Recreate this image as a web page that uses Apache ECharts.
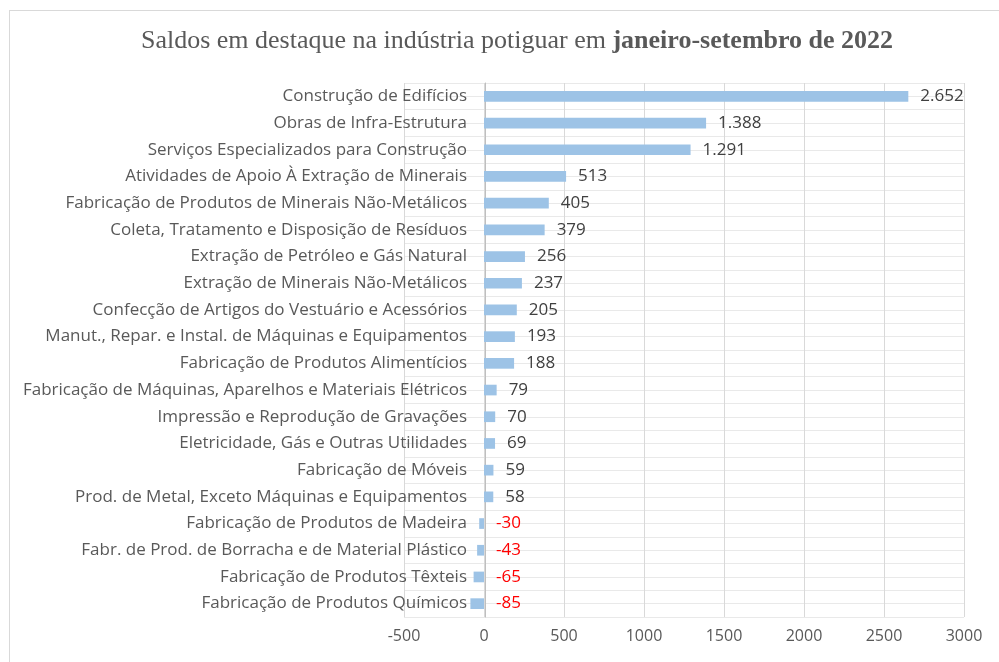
<!DOCTYPE html>
<html>
<head>
<meta charset="utf-8">
<script src="https://cdn.jsdelivr.net/npm/echarts@6/dist/echarts.min.js"></script>
<style>
  html, body { margin: 0; padding: 0; background: #fff; }
  #frame { position: absolute; left: 9px; top: 10px; width: 1000px; height: 700px;
           border-left: 1px solid #d9d9d9; border-top: 1px solid #d9d9d9; }
  #main { position: absolute; left: 0; top: 0; width: 999px; height: 662px; }
</style>
</head>
<body>
<div id="frame"></div>
<div id="main"></div>
<script>
// categorias (de cima para baixo)
var categories = [
  "Construção de Edifícios",
  "Obras de Infra-Estrutura",
  "Serviços Especializados para Construção",
  "Atividades de Apoio À Extração de Minerais",
  "Fabricação de Produtos de Minerais Não-Metálicos",
  "Coleta, Tratamento e Disposição de Resíduos",
  "Extração de Petróleo e Gás Natural",
  "Extração de Minerais Não-Metálicos",
  "Confecção de Artigos do Vestuário e Acessórios",
  "Manut., Repar. e Instal. de Máquinas e Equipamentos",
  "Fabricação de Produtos Alimentícios",
  "Fabricação de Máquinas, Aparelhos e Materiais Elétricos",
  "Impressão e Reprodução de Gravações",
  "Eletricidade, Gás e Outras Utilidades",
  "Fabricação de Móveis",
  "Prod. de Metal, Exceto Máquinas e Equipamentos",
  "Fabricação de Produtos de Madeira",
  "Fabr. de Prod. de Borracha e de Material Plástico",
  "Fabricação de Produtos Têxteis",
  "Fabricação de Produtos Químicos"
];
var saldos = [2652, 1388, 1291, 513, 405, 379, 256, 237, 205, 193, 188, 79, 70, 69, 59, 58, -30, -43, -65, -85];
var xMin = -500, xMax = 3000, xStep = 500;

var myChart = echarts.init(document.getElementById("main"));
var fmt = function (v) {
  return v.toLocaleString("pt-BR");
};
myChart.setOption({
  animation: false,
  title: {
    text: "{n|Saldos em destaque na indústria potiguar em }{b|janeiro-setembro de 2022}",
    left: 512,
    textAlign: "center",
    top: 23,
    textStyle: {
      fontWeight: "normal",
      rich: {
        n: { fontFamily: "Liberation Serif", fontSize: 26, color: "#595959", fontWeight: "normal" },
        b: { fontFamily: "Liberation Serif", fontSize: 26, color: "#595959", fontWeight: "bold" }
      }
    }
  },
  grid: { left: 404, right: 35, top: 83, bottom: 45, outerBoundsMode: "none" },
  xAxis: {
    type: "value",
    min: xMin,
    max: xMax,
    interval: xStep,
    axisLine: { show: false, onZero: false },
    axisTick: { show: false },
    axisLabel: {
      color: "#595959", fontFamily: "Open Sans", fontSize: 16, margin: 11,
      formatter: function (v) { return String(v); }
    },
    splitLine: { lineStyle: { color: "#d9d9d9", width: 1 } }
  },
  yAxis: [
    {
      type: "category",
      data: categories,
      inverse: true,
      // eixo das categorias no zero (-500 -> 0 = 81px)
      offset: -81,
      axisLine: { onZero: false, lineStyle: { color: "#bfbfbf" } },
      axisTick: { show: false },
      axisLabel: { color: "#595959", fontFamily: "Open Sans", fontSize: 17, margin: 18 },
      splitLine: { show: false }
    },
    {
      // linhas de grade horizontais
      type: "value",
      min: 0,
      max: categories.length * 2,
      interval: 1,
      position: "right",
      axisLine: { show: false, onZero: false },
      axisTick: { show: false },
      axisLabel: { show: false },
      splitLine: { show: true, lineStyle: { color: "#e9e9e9", width: 1 } }
    }
  ],
  series: [
    {
      type: "bar",
      data: saldos,
      yAxisIndex: 0,
      barWidth: "40%",
      itemStyle: { color: "#9dc3e6" },
      label: {
        show: true,
        position: "right",
        distance: 12,
        formatter: function (p) {
          return p.value < 0 ? "{neg|" + fmt(p.value) + "}" : "{pos|" + fmt(p.value) + "}";
        },
        rich: {
          pos: { color: "#404040", fontFamily: "Open Sans", fontSize: 17 },
          neg: { color: "#ff0000", fontFamily: "Open Sans", fontSize: 17 }
        }
      }
    }
  ]
});
</script>
</body>
</html>
